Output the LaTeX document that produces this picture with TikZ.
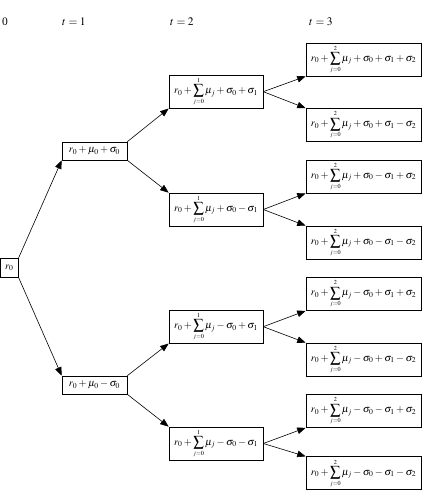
\documentclass[tikz,border=0pt]{standalone}
\usepackage{mathptmx}
\usepackage[no-math]{fontspec}
\setmainfont{Liberation Serif}
\usetikzlibrary{arrows.meta}
\tikzset{
  bx/.style={draw, line width=0.6pt, inner sep=0pt, font=\fontsize{10.3}{12}\selectfont},
  c0/.style={bx, minimum width=18pt, minimum height=19pt},
  c1/.style={bx, minimum width=65pt, minimum height=18pt},
  c2/.style={bx, minimum width=94pt, minimum height=33pt},
  c3/.style={bx, minimum width=115pt, minimum height=33pt},
  hd/.style={font=\fontsize{11.5}{13}\selectfont, inner sep=0pt},
  ar/.style={line width=0.6pt, -{Triangle[length=8.5pt,width=6.5pt]}}
}
\newcommand{\sm}[1]{\mathop{\displaystyle\sum}\limits_{\scriptscriptstyle j=0}^{\scriptscriptstyle #1}\mu_j}
\begin{document}
\begin{tikzpicture}[x=1pt,y=1pt]
\useasboundingbox (0,0) rectangle (428,-490);
% headers
\node[hd] (h0) at (5,-22) {0};
\node[hd] (h1) at (74,-22) {$t=1$};
\node[hd] (h2) at (182,-22) {$t=2$};
\node[hd] (h3) at (321,-22) {$t=3$};
% column 0
\node[c0] (r) at (9.3,-267.7) {$r_0$};
% column 1
\node[c1] (a) at (94.5,-151) {$r_0+\mu_0+\sigma_0$};
\node[c1] (b) at (94.5,-385) {$r_0+\mu_0-\sigma_0$};
% column 2
\node[c2] (aa) at (216,-91.7) {$r_0+\sm{1}+\sigma_0+\sigma_1$};
\node[c2] (ab) at (216,-209.5) {$r_0+\sm{1}+\sigma_0-\sigma_1$};
\node[c2] (ba) at (216,-326.7) {$r_0+\sm{1}-\sigma_0+\sigma_1$};
\node[c2] (bb) at (216,-443.5) {$r_0+\sm{1}-\sigma_0-\sigma_1$};
% column 3
\node[c3] (aaa) at (363.5,-59.5) {$r_0+\sm{2}+\sigma_0+\sigma_1+\sigma_2$};
\node[c3] (aab) at (363.5,-125) {$r_0+\sm{2}+\sigma_0+\sigma_1-\sigma_2$};
\node[c3] (aba) at (363.5,-176.5) {$r_0+\sm{2}+\sigma_0-\sigma_1+\sigma_2$};
\node[c3] (abb) at (363.5,-242.5) {$r_0+\sm{2}+\sigma_0-\sigma_1-\sigma_2$};
\node[c3] (baa) at (363.5,-294) {$r_0+\sm{2}-\sigma_0+\sigma_1+\sigma_2$};
\node[c3] (bab) at (363.5,-359.5) {$r_0+\sm{2}-\sigma_0+\sigma_1-\sigma_2$};
\node[c3] (bba) at (363.5,-411) {$r_0+\sm{2}-\sigma_0-\sigma_1+\sigma_2$};
\node[c3] (bbb) at (363.5,-473.2) {$r_0+\sm{2}-\sigma_0-\sigma_1-\sigma_2$};
% arrows
\draw[ar] (r.north east) -- (a.south west);
\draw[ar] (r.south east) -- (b.north west);
\draw[ar] (a.north east) -- (aa.south west);
\draw[ar] (a.south east) -- (ab.north west);
\draw[ar] (b.north east) -- (ba.south west);
\draw[ar] (b.south east) -- (bb.north west);
\draw[ar] (aa.east) -- (aaa.south west);
\draw[ar] (aa.east) -- (aab.north west);
\draw[ar] (ab.east) -- (aba.south west);
\draw[ar] (ab.east) -- (abb.north west);
\draw[ar] (ba.east) -- (baa.south west);
\draw[ar] (ba.east) -- (bab.north west);
\draw[ar] (bb.east) -- (bba.south west);
\draw[ar] (bb.east) -- (bbb.north west);
\end{tikzpicture}
\end{document}
